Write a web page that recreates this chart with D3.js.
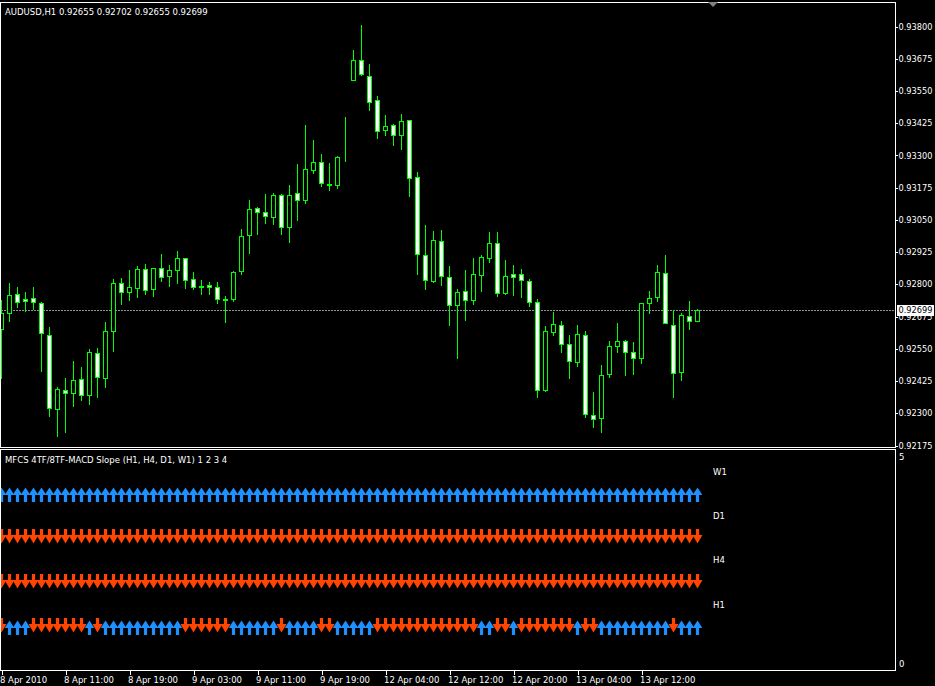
<!DOCTYPE html>
<html>
<head>
<meta charset="utf-8">
<script src="https://cdnjs.cloudflare.com/ajax/libs/d3/7.8.5/d3.min.js"></script>
<style>
  body { margin: 0; background: #000; }
  svg text { font-family: "DejaVu Sans", sans-serif; font-size: 8.5px; fill: #fff; }
</style>
</head>
<body>
<script>
// AUDUSD H1 candles, first bar = 8 Apr 2010 03:00
var opens = [
  0.92624, 0.92686, 0.92760, 0.92741, 0.92744, 0.92725, 0.92601, 0.92314, 0.92387, 0.92378,
  0.92430, 0.92368, 0.92531, 0.92434, 0.92616, 0.92802, 0.92767, 0.92783, 0.92856, 0.92779,
  0.92860, 0.92829, 0.92853, 0.92899, 0.92818, 0.92792, 0.92794, 0.92787, 0.92740, 0.92740,
  0.92849, 0.92988, 0.93093, 0.93078, 0.93060, 0.93143, 0.93019, 0.93151, 0.93124, 0.93240,
  0.93271, 0.93186, 0.93182, 0.93289, 0.93592, 0.93667, 0.93605, 0.93512, 0.93396, 0.93415,
  0.93376, 0.93434, 0.93213, 0.92911, 0.92812, 0.92965, 0.92825, 0.92717, 0.92771, 0.92736,
  0.92836, 0.92901, 0.92957, 0.92766, 0.92837, 0.92837, 0.92810, 0.92729, 0.92390, 0.92612,
  0.92639, 0.92566, 0.92496, 0.92601, 0.92290, 0.92279, 0.92449, 0.92558, 0.92577, 0.92535,
  0.92511, 0.92725, 0.92748, 0.92841, 0.92639, 0.92457, 0.92674, 0.92655
];
var highs = [
  0.92737, 0.92803, 0.92788, 0.92768, 0.92788, 0.92731, 0.92632, 0.92399, 0.92434, 0.92501,
  0.92478, 0.92547, 0.92551, 0.92652, 0.92819, 0.92823, 0.92854, 0.92870, 0.92877, 0.92860,
  0.92916, 0.92873, 0.92927, 0.92899, 0.92846, 0.92815, 0.92807, 0.92807, 0.92753, 0.92850,
  0.93013, 0.93125, 0.93098, 0.93149, 0.93152, 0.93147, 0.93183, 0.93265, 0.93416, 0.93358,
  0.93304, 0.93269, 0.93295, 0.93447, 0.93707, 0.93804, 0.93653, 0.93529, 0.93455, 0.93419,
  0.93459, 0.93434, 0.93233, 0.93028, 0.93005, 0.93009, 0.92869, 0.92779, 0.92853, 0.92900,
  0.92911, 0.93000, 0.93000, 0.92891, 0.92872, 0.92856, 0.92818, 0.92740, 0.92635, 0.92690,
  0.92656, 0.92601, 0.92639, 0.92616, 0.92379, 0.92484, 0.92577, 0.92647, 0.92581, 0.92573,
  0.92725, 0.92771, 0.92872, 0.92912, 0.92697, 0.92686, 0.92732, 0.92702
];
var lows = [
  0.92436, 0.92657, 0.92711, 0.92696, 0.92703, 0.92463, 0.92289, 0.92211, 0.92227, 0.92328,
  0.92351, 0.92335, 0.92362, 0.92401, 0.92541, 0.92723, 0.92739, 0.92750, 0.92762, 0.92754,
  0.92812, 0.92793, 0.92805, 0.92785, 0.92780, 0.92762, 0.92762, 0.92727, 0.92653, 0.92734,
  0.92839, 0.92921, 0.92995, 0.93037, 0.93033, 0.92995, 0.92964, 0.93049, 0.93115, 0.93231,
  0.93181, 0.93165, 0.93173, 0.93278, 0.93592, 0.93611, 0.93475, 0.93367, 0.93378, 0.93340,
  0.93324, 0.93142, 0.92839, 0.92781, 0.92808, 0.92797, 0.92642, 0.92514, 0.92661, 0.92723,
  0.92774, 0.92886, 0.92754, 0.92762, 0.92758, 0.92750, 0.92715, 0.92362, 0.92386, 0.92601,
  0.92536, 0.92436, 0.92480, 0.92283, 0.92246, 0.92227, 0.92440, 0.92537, 0.92448, 0.92452,
  0.92494, 0.92686, 0.92735, 0.92647, 0.92362, 0.92428, 0.92624, 0.92655
];
var closes = [
  0.92686, 0.92756, 0.92731, 0.92735, 0.92729, 0.92608, 0.92317, 0.92391, 0.92376, 0.92426,
  0.92368, 0.92535, 0.92438, 0.92616, 0.92802, 0.92767, 0.92787, 0.92856, 0.92775, 0.92860,
  0.92825, 0.92853, 0.92899, 0.92814, 0.92787, 0.92788, 0.92787, 0.92740, 0.92738, 0.92845,
  0.92984, 0.93089, 0.93078, 0.93062, 0.93143, 0.93019, 0.93143, 0.93124, 0.93244, 0.93271,
  0.93190, 0.93183, 0.93291, 0.93287, 0.93667, 0.93615, 0.93504, 0.93392, 0.93411, 0.93376,
  0.93430, 0.93209, 0.92915, 0.92814, 0.92969, 0.92829, 0.92717, 0.92767, 0.92736, 0.92837,
  0.92903, 0.92957, 0.92763, 0.92829, 0.92828, 0.92814, 0.92729, 0.92387, 0.92616, 0.92643,
  0.92566, 0.92500, 0.92604, 0.92294, 0.92275, 0.92445, 0.92558, 0.92577, 0.92535, 0.92511,
  0.92725, 0.92744, 0.92845, 0.92647, 0.92453, 0.92678, 0.92655, 0.92699
];

// MACD slope direction per bar: 1 = up, -1 = down
var slopeH1 = [
  -1, 1, 1, 1,-1,-1,-1,-1,-1,-1,
  -1, 1,-1, 1, 1, 1, 1, 1, 1, 1,
   1, 1, 1,-1,-1,-1,-1,-1,-1, 1,
   1, 1, 1, 1, 1,-1, 1, 1, 1, 1,
  -1,-1, 1, 1, 1, 1, 1,-1,-1,-1,
  -1,-1,-1,-1,-1,-1,-1,-1,-1,-1,
   1, 1,-1,-1, 1,-1,-1,-1,-1,-1,
  -1,-1, 1,-1,-1, 1, 1, 1, 1, 1,
   1, 1, 1, 1,-1, 1, 1, 1
];
var slopeH4 = [
  -1,-1,-1,-1,-1,-1,-1,-1,-1,-1, -1,-1,-1,-1,-1,-1,-1,-1,-1,-1,
  -1,-1,-1,-1,-1,-1,-1,-1,-1,-1, -1,-1,-1,-1,-1,-1,-1,-1,-1,-1,
  -1,-1,-1,-1,-1,-1,-1,-1,-1,-1, -1,-1,-1,-1,-1,-1,-1,-1,-1,-1,
  -1,-1,-1,-1,-1,-1,-1,-1,-1,-1, -1,-1,-1,-1,-1,-1,-1,-1,-1,-1,
  -1,-1,-1,-1,-1,-1,-1,-1
];
var slopeD1 = [
  -1,-1,-1,-1,-1,-1,-1,-1,-1,-1, -1,-1,-1,-1,-1,-1,-1,-1,-1,-1,
  -1,-1,-1,-1,-1,-1,-1,-1,-1,-1, -1,-1,-1,-1,-1,-1,-1,-1,-1,-1,
  -1,-1,-1,-1,-1,-1,-1,-1,-1,-1, -1,-1,-1,-1,-1,-1,-1,-1,-1,-1,
  -1,-1,-1,-1,-1,-1,-1,-1,-1,-1, -1,-1,-1,-1,-1,-1,-1,-1,-1,-1,
  -1,-1,-1,-1,-1,-1,-1,-1
];
var slopeW1 = [
  1,1,1,1,1,1,1,1,1,1, 1,1,1,1,1,1,1,1,1,1,
  1,1,1,1,1,1,1,1,1,1, 1,1,1,1,1,1,1,1,1,1,
  1,1,1,1,1,1,1,1,1,1, 1,1,1,1,1,1,1,1,1,1,
  1,1,1,1,1,1,1,1,1,1, 1,1,1,1,1,1,1,1,1,1,
  1,1,1,1,1,1,1,1
];

var rowNames = ["H1", "H4", "D1", "W1"];
var rowLevels = [1, 2, 3, 4];

var priceTicks = [0.92175, 0.92300, 0.92425, 0.92550, 0.92675, 0.92800, 0.92925,
                  0.93050, 0.93175, 0.93300, 0.93425, 0.93550, 0.93675, 0.93800];
var timeTickBars = [0, 8, 16, 24, 32, 40, 48, 56, 64, 72, 80];
var timeTickLabels = ["8 Apr 2010", "8 Apr 11:00", "8 Apr 19:00", "9 Apr 03:00", "9 Apr 11:00",
                      "9 Apr 19:00", "12 Apr 04:00", "12 Apr 12:00", "12 Apr 20:00",
                      "13 Apr 04:00", "13 Apr 12:00"];

var symbol = "AUDUSD,H1";
var lastBid = 0.92699;
var indicatorName = "MFCS 4TF/8TF-MACD Slope (H1, H4, D1, W1) 1 2 3 4";

var W = 935, H = 686;
var bull = "#00ff00", blueUp = "#1e90ff", redDown = "#ff4500";

var svg = d3.select("body").append("svg")
  .attr("width", W)
  .attr("height", H)
  .style("background", "#000");

var x = d3.scaleLinear().domain([0, 1]).range([1, 9]);
var y = d3.scaleLinear().domain([0.92175, 0.93800]).range([445, 26]);
var yi = d3.scaleLinear().domain([0, 5]).range([671, 450]);

function px(v) { return Math.round(v) + 0.5; }

// clip for both panels
svg.append("clipPath").attr("id", "mainclip")
  .append("rect").attr("x", 1).attr("y", 3).attr("width", 894).attr("height", 444);
svg.append("clipPath").attr("id", "indclip")
  .append("rect").attr("x", 1).attr("y", 450).attr("width", 894).attr("height", 220);

// price axis
var yAxis = d3.axisRight(y)
  .tickValues(priceTicks)
  .tickFormat(d3.format(".5f"))
  .tickSize(2)
  .tickPadding(1);
var ga = svg.append("g")
  .attr("transform", "translate(895.5,0.5)")
  .call(yAxis);
ga.select(".domain").remove();
ga.selectAll("line").attr("stroke", "#fff").attr("shape-rendering", "crispEdges");
ga.selectAll("text").attr("fill", "#fff").style("font-family", "DejaVu Sans").style("font-size", "8.2px");

// time axis
var xAxis = d3.axisBottom(x)
  .tickValues(timeTickBars)
  .tickFormat(function (d, i) { return timeTickLabels[i]; })
  .tickSize(4)
  .tickPadding(2);
var gx = svg.append("g")
  .attr("transform", "translate(0.5,671)")
  .call(xAxis);
gx.select(".domain").remove();
gx.selectAll("line").attr("stroke", "#fff").attr("shape-rendering", "crispEdges");
gx.selectAll("text")
  .attr("fill", "#fff")
  .attr("text-anchor", "start")
  .attr("x", -2)
  .style("font-family", "DejaVu Sans").style("font-size", "8.5px");

// bid line
var bidY = px(y(lastBid));
svg.append("line")
  .attr("x1", 1).attr("x2", 895)
  .attr("y1", bidY).attr("y2", bidY)
  .attr("stroke", "#8a94a2")
  .attr("stroke-dasharray", "2,1")
  .attr("shape-rendering", "crispEdges");

svg.append("rect")
  .attr("x", 897).attr("y", bidY - 5.5)
  .attr("width", 37).attr("height", 11)
  .attr("fill", "#fff");
svg.append("text")
  .attr("x", 898.5).attr("y", bidY)
  .attr("dy", "0.35em")
  .style("fill", "#000")
  .style("font-size", "8.2px")
  .text(d3.format(".5f")(lastBid));

// candles
var bars = d3.range(opens.length).map(function (i) {
  return { i: i, o: opens[i], h: highs[i], l: lows[i], c: closes[i] };
});

var gc = svg.append("g").attr("clip-path", "url(#mainclip)");

gc.selectAll("line.wick")
  .data(bars)
  .enter().append("line")
  .attr("class", "wick")
  .attr("x1", function (d) { return px(x(d.i)); })
  .attr("x2", function (d) { return px(x(d.i)); })
  .attr("y1", function (d) { return Math.round(y(d.h)); })
  .attr("y2", function (d) { return Math.round(y(d.l)) + 1; })
  .attr("stroke", bull)
  .attr("shape-rendering", "crispEdges");

gc.selectAll("rect.body")
  .data(bars)
  .enter().append("rect")
  .attr("class", "body")
  .attr("x", function (d) { return px(x(d.i)) - 2; })
  .attr("y", function (d) { return px(y(Math.max(d.o, d.c))); })
  .attr("width", 4)
  .attr("height", function (d) {
    return Math.round(y(Math.min(d.o, d.c))) - Math.round(y(Math.max(d.o, d.c)));
  })
  .attr("fill", function (d) { return d.c >= d.o ? "#000" : "#fff"; })
  .attr("stroke", bull)
  .attr("shape-rendering", "crispEdges");

// panel frames
svg.append("rect")
  .attr("x", 0.5).attr("y", 2.5).attr("width", 895).attr("height", 445)
  .attr("fill", "none").attr("stroke", "#fff").attr("shape-rendering", "crispEdges");
svg.append("rect")
  .attr("x", 0.5).attr("y", 449.5).attr("width", 895).attr("height", 221)
  .attr("fill", "none").attr("stroke", "#fff").attr("shape-rendering", "crispEdges");

// chart shift marker
svg.append("path")
  .attr("d", "M708,2 L718,2 L713,7 Z")
  .attr("fill", "#808080");

// titles
svg.append("text").attr("x", 5).attr("y", 15)
  .text(symbol + "  " + [opens[87], highs[87], lows[87], closes[87]].map(d3.format(".5f")).join(" "));
svg.append("text").attr("x", 5).attr("y", 463).text(indicatorName);

// indicator scale labels
svg.append("text").attr("x", 899).attr("y", yi(5) + 7).attr("dy", "0.35em").text("5");
svg.append("text").attr("x", 899).attr("y", yi(0) - 7).attr("dy", "0.35em").text("0");

// slope arrows
var upArrow = "M-4.8,1 L0,-6.5 L4.8,1 L1.6,1 L1.6,8 L-1.6,8 L-1.6,1 Z";
var downArrow = "M-1.6,-9 L1.6,-9 L1.6,-3 L5,-3 L0,5.5 L-5,-3 L-1.6,-3 Z";

var rows = [slopeH1, slopeH4, slopeD1, slopeW1];
var gi = svg.append("g").attr("clip-path", "url(#indclip)");

rows.forEach(function (series, r) {
  var lvl = rowLevels[r];
  gi.append("g").selectAll("path")
    .data(series)
    .enter().append("path")
    .attr("transform", function (d, i) {
      return "translate(" + (Math.round(x(i)) + 0.5) + "," + Math.round(yi(lvl)) + ")";
    })
    .attr("d", function (d) { return d > 0 ? upArrow : downArrow; })
    .attr("fill", function (d) { return d > 0 ? blueUp : redDown; });

  svg.append("text")
    .attr("x", Math.round(x(89)))
    .attr("y", yi(lvl + 0.5))
    .attr("dy", "0.35em")
    .text(rowNames[r]);
});
</script>
</body>
</html>
